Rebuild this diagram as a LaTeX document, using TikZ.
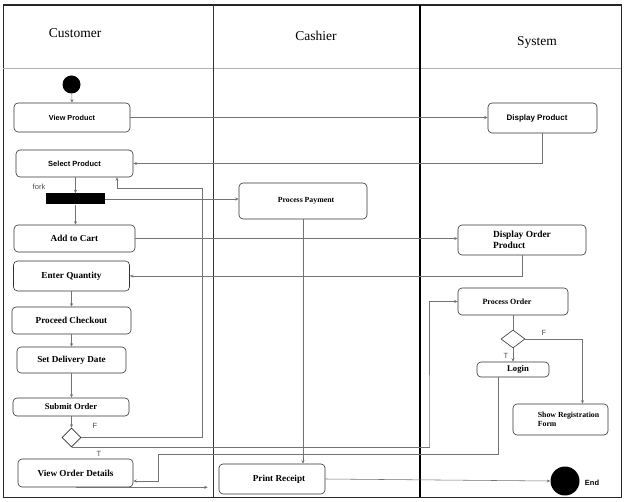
\documentclass[tikz,border=0pt]{standalone}
\usepackage{fontspec}
\setmainfont{Liberation Serif}
\setsansfont{Liberation Sans}
\usetikzlibrary{arrows.meta,shapes.geometric}
\begin{document}
\begin{tikzpicture}[x=1pt,y=-1pt,
  box/.style={draw=gray!40!black, rounded corners=4pt, line width=0.6pt, inner sep=0pt,
    font=\bfseries\fontsize{9.2}{10.5}\selectfont},
  sbox/.style={box, font=\sffamily\bfseries\fontsize{7.5}{9}\selectfont},
  txt/.style={inner sep=0pt, font=\bfseries\fontsize{9}{10.5}\selectfont},
  hdr/.style={inner sep=0pt, font=\fontsize{13.5}{15}\selectfont},
  lbl/.style={inner sep=0pt, font=\sffamily\fontsize{7.5}{9}\selectfont, text=gray!60!black},
  dia/.style={diamond, draw=gray!40!black, line width=0.6pt, inner sep=0pt, fill=white},
  dot/.style={circle, fill=black, inner sep=0pt},
  conn/.style={draw=black!55, line width=0.55pt},
  arr/.style={conn, -{Stealth[length=3.5pt,width=3pt]}}
]
\useasboundingbox (0,0) rectangle (624,502);
\fill[white] (0,0) rectangle (624,502);
% frame and lanes
\draw[draw=gray!30!black, line width=1pt] (3,5) rectangle (621,497);
\draw[draw=gray!30!black, line width=1.6pt] (3,5) -- (621,5);
\draw[draw=gray!60, line width=0.8pt] (3,68) -- (621,68);
\draw[draw=gray!40!black, line width=0.8pt] (213,5) -- (213,497);
\draw[draw=black, line width=1.4pt] (420,5) -- (420,497);
% headers
\node[hdr] (hc) at (75,33) {Customer};
\node[hdr] (hk) at (316,36) {Cashier};
\node[hdr] (hs) at (537,42) {System};
% customer lane
\node[dot, minimum size=18pt] (start) at (71.5,84.5) {};
\node[sbox, minimum width=116pt, minimum height=29pt, font=\sffamily\bfseries\fontsize{7.3}{9}\selectfont] (vp) at (72,117.5) {View Product};
\node[sbox, minimum width=117pt, minimum height=27pt] (sp) at (74.5,163.5) {Select Product};
\node[lbl] (forkl) at (39,187) {fork};
\node[fill=black, minimum width=59pt, minimum height=11pt, inner sep=0pt] (fork) at (75.5,199) {};
\node[box, minimum width=121pt, minimum height=27pt] (atc) at (74.5,238.5) {Add to Cart};
\node[box, minimum width=116pt, minimum height=30pt] (eq) at (71.5,276) {Enter Quantity};
\node[box, minimum width=119pt, minimum height=27pt] (pc) at (71.5,320.5) {Proceed Checkout};
\node[box, minimum width=109pt, minimum height=26pt] (sdd) at (71.5,360) {Set Delivery Date};
\node[box, minimum width=116pt, minimum height=18pt, font=\bfseries\fontsize{8.7}{10}\selectfont] (so) at (71,407) {Submit Order};
\node[dia, minimum width=19pt, minimum height=19pt] (d1) at (71.5,437.5) {};
\node[lbl] (lf1) at (95,426) {F};
\node[lbl] (lt1) at (99,454) {T};
\node[box, minimum width=115pt, minimum height=28pt] (vod) at (75.5,473) {View Order Details};
% cashier lane
\node[box, minimum width=128pt, minimum height=36pt, font=\bfseries\fontsize{7.8}{9}\selectfont] (pp) at (303,201) {\hspace*{6pt}Process Payment};
\node[box, minimum width=106pt, minimum height=30pt] (pr) at (272,479) {\hspace*{14pt}Print Receipt};
% system lane
\node[sbox, minimum width=109pt, minimum height=30pt, font=\sffamily\bfseries\fontsize{8}{9}\selectfont] (dp) at (542.5,118) {Display Product\hspace*{11pt}};
\node[box, minimum width=128pt, minimum height=30pt, align=left, font=\bfseries\fontsize{9.4}{11}\selectfont] (dop) at (522,240) {Display Order\\Product};
\node[box, minimum width=110pt, minimum height=27pt, font=\bfseries\fontsize{8}{9}\selectfont] (po) at (513,301.5) {Process Order\hspace*{12pt}};
\node[dia, minimum width=24pt, minimum height=18pt] (d2) at (513,339) {};
\node[lbl] (lf2) at (544,333) {F};
\node[lbl] (lt2) at (506,356) {T};
\node[box, minimum width=72pt, minimum height=15pt, font=\bfseries\fontsize{8.7}{10}\selectfont] (lg) at (513,369.5) {\hspace*{10pt}Login};
\node[box, minimum width=95pt, minimum height=31pt] (srf) at (560.5,419.5) {};
\node[txt, align=left, font=\bfseries\fontsize{7.8}{9.5}\selectfont] (srft) at (568.5,419.5) {Show Registration\\Form};
\node[dot, minimum size=29pt] (endc) at (565,481) {};
\node[inner sep=0pt, font=\sffamily\bfseries\fontsize{7.5}{9}\selectfont] (endl) at (592,483) {End};
% helper coordinates
\coordinate (f1) at (202,188);
\coordinate (fx) at (117,0);
\coordinate (tx) at (429,447);
\coordinate (lx) at (158,454);
% connectors
\draw[arr] (start) -- (vp.north);
\draw[arr] (vp.east) -- (vp.east -| dp.west);
\draw[arr] (dp.south) |- (sp.east);
\draw[arr] (sp.south -| fork.north) -- (fork.north);
\draw[arr] (fork.east) -- (fork.east -| pp.west);
\draw[arr] (fork.south) -- (fork.south |- atc.north);
\draw[arr] (atc.east) -- (atc.east -| dop.west);
\draw[arr] (dop.south) |- (eq.east);
\draw[arr] (eq.south) -- (eq.south |- pc.north);
\draw[arr] (pc.south) -- (pc.south |- sdd.north);
\draw[arr] (sdd.south) -- (sdd.south |- so.north);
\draw[arr] (so.south -| d1.north) -- (d1.north);
\draw[arr] (d1.east) -| (f1) -| (sp.south -| fx);
\draw[arr] (d1.south) -| (tx) |- (po.west);
\draw[conn] (po.south) -- (d2.north);
\draw[arr] (d2.south) -- (lg.north);
\draw[arr] (d2.east) -| ([xshift=22pt]srf.north);
\draw[arr] (lg.south -| 498,0) |- (lx) |- ([yshift=-8pt]vod.east);
\draw[arr, shorten >=11pt] (vod.south) -- (vod.south -| pr.west);
\draw[arr] (pp.south) -- (pp.south |- pr.north);
\draw[arr] (pr.east) -- (endc.west);
\end{tikzpicture}
\end{document}
